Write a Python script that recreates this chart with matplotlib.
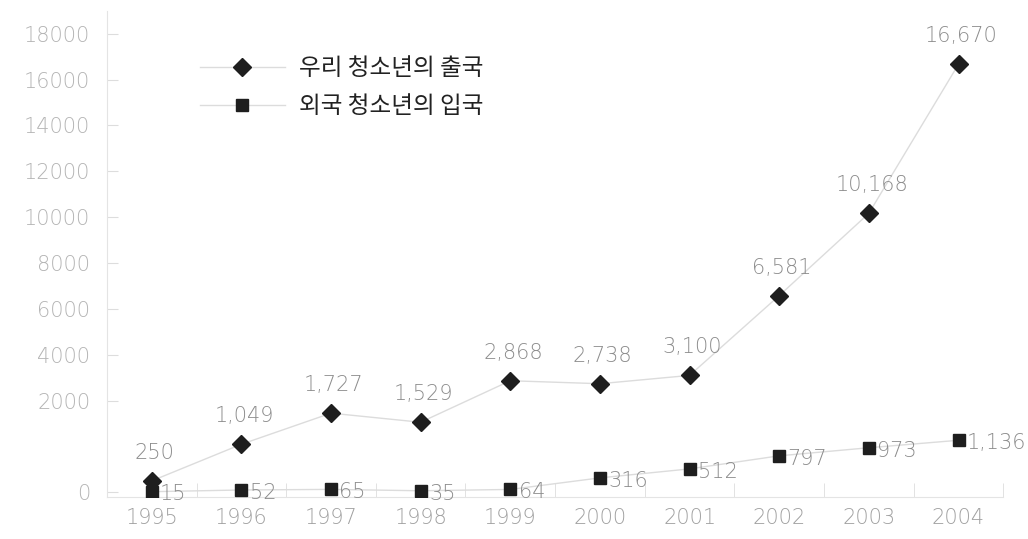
import numpy as np
import matplotlib.pyplot as plt

# 데이터
years = ['1995', '1996', '1997', '1998', '1999', '2000', '2001', '2002', '2003', '2004']
out_kr = [250, 1049, 1727, 1529, 2868, 2738, 3100, 6581, 10168, 16670]
in_fg = [15, 52, 65, 35, 64, 316, 512, 797, 973, 1136]
yticks = [0, 2000, 4000, 6000, 8000, 10000, 12000, 14000, 16000, 18000]

plt.rcParams['font.family'] = ['Noto Sans CJK KR', 'DejaVu Sans']
numfont = ['DejaVu Sans']

# 0~2000 구간을 두 배로 늘린 축
def fwd(v):
    v = np.asarray(v, dtype=float)
    return np.where(v < 2000, v * 2, v + 2000)

def inv(t):
    t = np.asarray(t, dtype=float)
    return np.where(t < 4000, t / 2, t - 2000)

fig = plt.figure(figsize=(10.28, 5.39), dpi=100)
ax = fig.add_axes([0.104, 0.078, 0.872, 0.902])
ax.set_yscale('function', functions=(fwd, inv))

x = np.arange(len(years))
ax.plot(x, out_kr, color='#dcdcdc', lw=1, marker='D', ms=9, mfc='#1e1e1e', mec='#1e1e1e',
        label='우리 청소년의 출국', zorder=3)
ax.plot(x, in_fg, color='#dcdcdc', lw=1, marker='s', ms=8.5, mfc='#1e1e1e', mec='#1e1e1e',
        label='외국 청소년의 입국', zorder=3)

for i in range(len(x)):
    ax.annotate(f'{out_kr[i]:,}', (x[i], out_kr[i]), xytext=(2, 13), textcoords='offset points',
                ha='center', va='bottom', fontsize=15, color='#8c8c8c', fontweight='light',
                family=numfont)
    ax.annotate(f'{in_fg[i]:,}', (x[i], in_fg[i]), xytext=(6, -2), textcoords='offset points',
                ha='left', va='center', fontsize=15, color='#8c8c8c', fontweight='light',
                family=numfont)

ax.set_xlim(-0.5, 9.5)
ax.set_ylim(-100, 19000)
ax.set_xticks(x)
ax.set_xticklabels(years)
ax.set_xticks(np.arange(0.5, 9.6, 1), minor=True)
ax.set_yticks(yticks)
ax.set_yticklabels([str(v) for v in yticks])

ax.tick_params(axis='x', which='major', length=0, pad=8, labelsize=15, labelcolor='#a0a0a0')
ax.tick_params(axis='x', which='minor', direction='in', length=10, color='#dddddd')
ax.tick_params(axis='y', direction='in', length=8, color='#dddddd', pad=12,
               labelsize=15, labelcolor='#b4b4b4')
for t in ax.get_xticklabels() + ax.get_yticklabels():
    t.set_fontweight('light')
    t.set_family(numfont)

for s in ['top', 'right']:
    ax.spines[s].set_visible(False)
ax.spines['left'].set_color('#e4e4e4')
ax.spines['bottom'].set_color('#e4e4e4')

leg = ax.legend(loc='upper left', bbox_to_anchor=(0.080, 0.948), frameon=False, fontsize=17,
                handlelength=3.6, labelspacing=0.62, handletextpad=0.6)
for t in leg.get_texts():
    t.set_color('#222222')

fig.savefig('out.png', dpi=100)
